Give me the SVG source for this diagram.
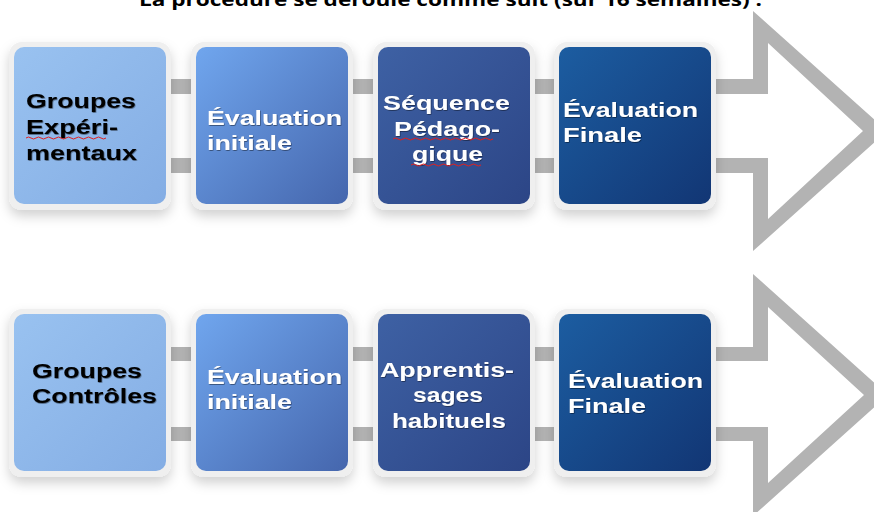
<svg xmlns="http://www.w3.org/2000/svg" width="874" height="512" viewBox="0 0 874 512">
<defs>
<linearGradient id="g1" x1="0" y1="0" x2="1" y2="1"><stop offset="0" stop-color="#99c2f0"/><stop offset="1" stop-color="#84ade4"/></linearGradient>
<linearGradient id="g2" x1="0" y1="0" x2="1" y2="1"><stop offset="0" stop-color="#70a6ee"/><stop offset="1" stop-color="#4566ad"/></linearGradient>
<linearGradient id="g3" x1="0" y1="0" x2="1" y2="1"><stop offset="0" stop-color="#3e61a4"/><stop offset="1" stop-color="#2c4586"/></linearGradient>
<linearGradient id="g4" x1="0" y1="0" x2="1" y2="1"><stop offset="0" stop-color="#1c5da1"/><stop offset="1" stop-color="#123674"/></linearGradient>
<filter id="sh" x="-20%" y="-20%" width="140%" height="150%">
<feDropShadow dx="0" dy="6" stdDeviation="6" flood-color="#000" flood-opacity="0.18"/>
</filter>
<filter id="ts" x="-5%" y="-20%" width="110%" height="140%">
<feDropShadow dx="0.6" dy="0.8" stdDeviation="0.5" flood-color="#000" flood-opacity="0.5"/>
</filter>
</defs>
<style>
.frame{fill:#efefef}
.t{font-family:"Liberation Sans",Arial,sans-serif;font-weight:700;font-size:20px;filter:url(#ts)}
.w{fill:#ffffff}
.k{fill:#000000}
.arrow{fill:#b3b3b3}
.hole{fill:#ffffff}
.sq{fill:none;stroke:#e02020;stroke-width:1}
</style>
<text x="139" y="6" font-family="'Open Sans','Liberation Sans',sans-serif" font-weight="700" font-size="17" fill="#000" textLength="623" lengthAdjust="spacingAndGlyphs">La procédure se déroule comme suit (sur 16 semaines) :</text>
<g id="connectors">
<path class="arrow" d="M30,79 H753 V11 L887,131 L753,251 V173 H30 Z"/>
<path class="hole" d="M30,94 H768 V43 L863,131 L768,219 V158 H30 Z"/>
<path class="arrow" d="M30,347 H753 V274 L888,395 L753,516 V441 H30 Z"/>
<path class="hole" d="M30,361 H768 V307 L864,395 L768,483 V427 H30 Z"/>
</g>
<g id="n1">
<rect class="frame" x="9" y="42" width="162" height="168" rx="13" filter="url(#sh)"/>
<rect x="14" y="47" width="152" height="157" rx="10" fill="url(#g1)"/>
<text class="t k" x="26" y="108" textLength="110" lengthAdjust="spacingAndGlyphs">Groupes</text>
<text class="t k" x="26" y="134" textLength="92" lengthAdjust="spacingAndGlyphs">Expéri-</text>
<text class="t k" x="26" y="160" textLength="111" lengthAdjust="spacingAndGlyphs">mentaux</text>
<path class="sq" d="M26,138 q2.5,-2 5,0 t5,0 t5,0 t5,0 t5,0 t5,0 t5,0 t5,0 t5,0 t5,0 t5,0 t5,0 t5,0 t5,0 t5,0 t5,0"/>
</g>
<g id="n2">
<rect class="frame" x="191" y="42" width="162" height="168" rx="13" filter="url(#sh)"/>
<rect x="196" y="47" width="152" height="157" rx="10" fill="url(#g2)"/>
<text class="t w" x="207" y="125" textLength="135" lengthAdjust="spacingAndGlyphs">Évaluation</text>
<text class="t w" x="207" y="150" textLength="85" lengthAdjust="spacingAndGlyphs">initiale</text>
</g>
<g id="n3">
<rect class="frame" x="373" y="42" width="162" height="168" rx="13" filter="url(#sh)"/>
<rect x="378" y="47" width="152" height="157" rx="10" fill="url(#g3)"/>
<text class="t w" x="383" y="110" textLength="127" lengthAdjust="spacingAndGlyphs">Séquence</text>
<text class="t w" x="394" y="136" textLength="106" lengthAdjust="spacingAndGlyphs">Pédago-</text>
<text class="t w" x="412" y="161" textLength="71" lengthAdjust="spacingAndGlyphs">gique</text>
<path class="sq" d="M393,139 q2.5,-2 5,0 t5,0 t5,0 t5,0 t5,0 t5,0 t5,0 t5,0 t5,0 t5,0 t5,0 t5,0 t5,0 t5,0 t5,0 t5,0 t5,0 t5,0 t5,0 t5,0"/>
<path class="sq" d="M411,165 q2.5,-2 5,0 t5,0 t5,0 t5,0 t5,0 t5,0 t5,0 t5,0 t5,0 t5,0 t5,0 t5,0 t5,0 t5,0"/>
</g>
<g id="n4">
<rect class="frame" x="554" y="42" width="162" height="168" rx="13" filter="url(#sh)"/>
<rect x="559" y="47" width="152" height="157" rx="10" fill="url(#g4)"/>
<text class="t w" x="563" y="117" textLength="135" lengthAdjust="spacingAndGlyphs">Évaluation</text>
<text class="t w" x="563" y="142" textLength="79" lengthAdjust="spacingAndGlyphs">Finale</text>
</g>
<g id="n5">
<rect class="frame" x="9" y="309" width="162" height="168" rx="13" filter="url(#sh)"/>
<rect x="14" y="314" width="152" height="157" rx="10" fill="url(#g1)"/>
<text class="t k" x="32" y="378" textLength="110" lengthAdjust="spacingAndGlyphs">Groupes</text>
<text class="t k" x="32" y="403" textLength="125" lengthAdjust="spacingAndGlyphs">Contrôles</text>
</g>
<g id="n6">
<rect class="frame" x="191" y="309" width="162" height="168" rx="13" filter="url(#sh)"/>
<rect x="196" y="314" width="152" height="157" rx="10" fill="url(#g2)"/>
<text class="t w" x="207" y="384" textLength="135" lengthAdjust="spacingAndGlyphs">Évaluation</text>
<text class="t w" x="207" y="409" textLength="85" lengthAdjust="spacingAndGlyphs">initiale</text>
</g>
<g id="n7">
<rect class="frame" x="373" y="309" width="162" height="168" rx="13" filter="url(#sh)"/>
<rect x="378" y="314" width="152" height="157" rx="10" fill="url(#g3)"/>
<text class="t w" x="380" y="377" textLength="134" lengthAdjust="spacingAndGlyphs">Apprentis-</text>
<text class="t w" x="413" y="402" textLength="70" lengthAdjust="spacingAndGlyphs">sages</text>
<text class="t w" x="392" y="428" textLength="114" lengthAdjust="spacingAndGlyphs">habituels</text>
</g>
<g id="n8">
<rect class="frame" x="554" y="309" width="162" height="168" rx="13" filter="url(#sh)"/>
<rect x="559" y="314" width="152" height="157" rx="10" fill="url(#g4)"/>
<text class="t w" x="568" y="388" textLength="135" lengthAdjust="spacingAndGlyphs">Évaluation</text>
<text class="t w" x="568" y="413" textLength="78" lengthAdjust="spacingAndGlyphs">Finale</text>
</g>
</svg>
